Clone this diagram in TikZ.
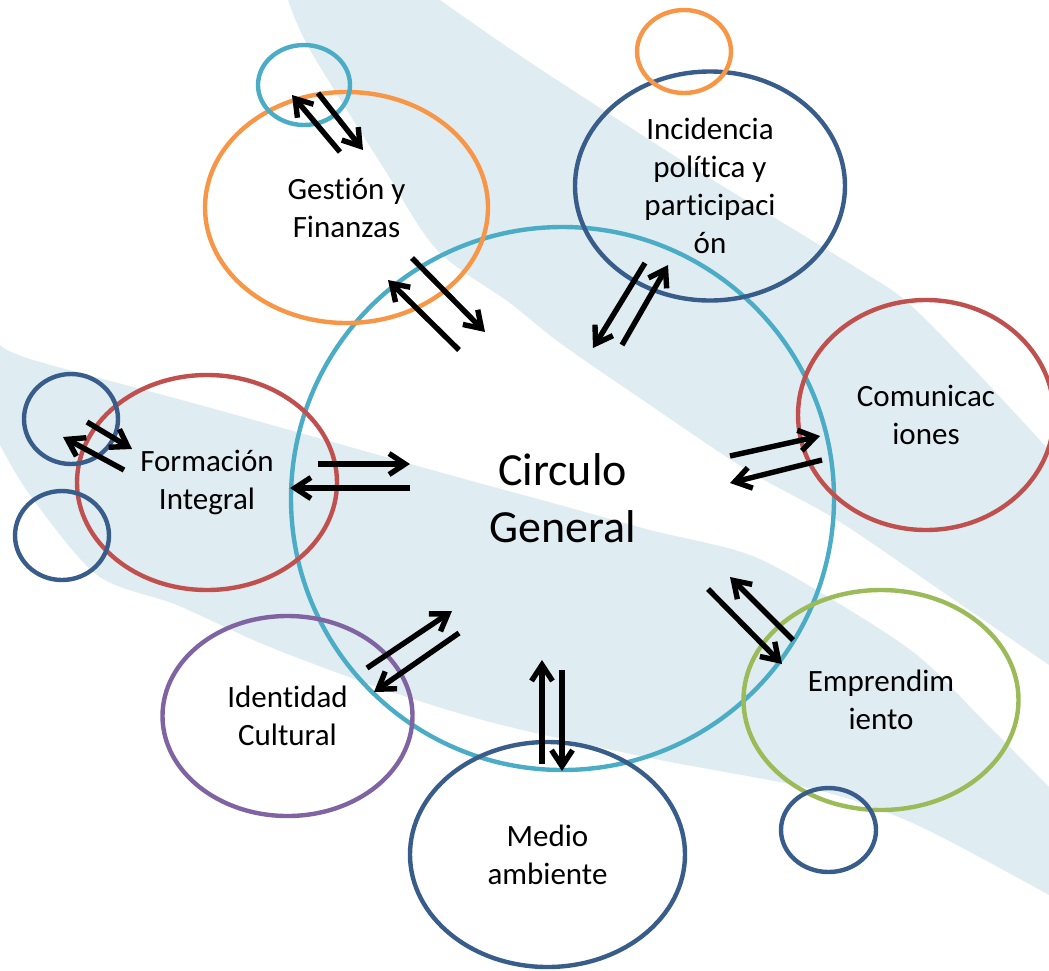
\documentclass[tikz,border=0pt]{standalone}
\usepackage{fontspec}
\setmainfont{Carlito}[Ligatures=NoCommon]
\usetikzlibrary{shapes.geometric,arrows.meta}
\definecolor{swoosh}{RGB}{223,236,241}
\definecolor{cteal}{RGB}{75,172,198}
\definecolor{corange}{RGB}{247,150,70}
\definecolor{cblue}{RGB}{56,93,138}
\definecolor{cred}{RGB}{192,80,77}
\definecolor{cgreen}{RGB}{155,187,89}
\definecolor{cpurple}{RGB}{128,100,162}
\begin{document}
\begin{tikzpicture}[x=0.5pt,y=-0.5pt]
    \tikzstyle{every node}=[font=\fontsize{15.5}{19}\selectfont, align=center]
    \tikzstyle{area}=[ellipse, draw, line width=2.2pt, inner sep=0pt]
    \tikzstyle{arr}=[line width=2.7pt, -{Straight Barb[length=8pt,width=10.5pt]}]
    \useasboundingbox (0,0) rectangle (1049,970);

    % background swooshes
    \fill[swoosh] plot[smooth] coordinates {(440,0) (500,42) (560,82) (700,172) (860,270) (907,302) (970,365) (1049,450)}
        -- plot[smooth] coordinates {(1049,665) (940,590) (837,520) (747,470) (650,405) (560,343) (510,303) (437,250) (383,167) (310,50) (288,0)} -- cycle;
    \fill[swoosh] plot[smooth] coordinates {(0,345) (33,360) (200,405) (450,475) (560,505) (650,530) (750,555) (833,600) (917,655) (983,720) (1049,787)}
        -- plot[smooth] coordinates {(1049,895) (917,825) (817,790) (650,758) (494,723) (380,688) (265,645) (177,605) (97,575) (30,495) (0,445)} -- cycle;

    % circles
    \node (cg) [area, draw=cteal, minimum width=271.5pt, minimum height=271.5pt, font=\fontsize{23}{28.5}\selectfont] at (562.5,498.5) {Circulo\\General};
    \node (gf) [area, draw=corange, minimum width=141.5pt, minimum height=115.5pt] at (346.5,207.5) {Gestión y\\Finanzas};
    \node (gfs) [area, draw=cteal, minimum width=46pt, minimum height=40pt] at (304,85) {};
    \node (ip) [area, draw=cblue, minimum width=135pt, minimum height=114.5pt] at (710,186) {Incidencia\\política y\\participaci\\ón};
    \node (ips) [area, draw=corange, minimum width=47pt, minimum height=41.5pt] at (684,51.5) {};
    \node (co) [area, draw=cred, minimum width=128pt, minimum height=115pt] at (926,415) {Comunicac\\iones};
    \node (em) [area, draw=cgreen, minimum width=137.5pt, minimum height=110pt] at (881,700) {Emprendim\\iento};
    \node (ems) [area, draw=cblue, minimum width=47.5pt, minimum height=42pt] at (828.5,830) {};
    \node (ma) [area, draw=cblue, minimum width=137.5pt, minimum height=112.5pt] at (547.5,854.5) {Medio\\ambiente};
    \node (ic) [area, draw=cpurple, minimum width=125pt, minimum height=100pt] at (287.5,716) {Identidad\\Cultural};
    \node (fi) [area, draw=cred, minimum width=130pt, minimum height=107.5pt] at (207,482.5) {Formación\\Integral};
    \node (fis1) [area, draw=cblue, minimum width=47pt, minimum height=45pt] at (71,419) {};
    \node (fis2) [area, draw=cblue, minimum width=47pt, minimum height=44.5pt] at (62,535.5) {};

    % arrow ends
    \coordinate (gf1) at (459,350); \coordinate (gf2) at (388,280);
    \coordinate (gf3) at (412,258); \coordinate (gf4) at (485,332);
    \coordinate (gs1) at (340,152); \coordinate (gs2) at (292,95);
    \coordinate (gs3) at (318,93);  \coordinate (gs4) at (363,150);
    \coordinate (ip1) at (645,263); \coordinate (ip2) at (593,348);
    \coordinate (ip3) at (622,345); \coordinate (ip4) at (668,265);
    \coordinate (co1) at (730,456); \coordinate (co2) at (820,436);
    \coordinate (co3) at (822,460); \coordinate (co4) at (730,483);
    \coordinate (em1) at (708,589); \coordinate (em2) at (782,664);
    \coordinate (em3) at (793,640); \coordinate (em4) at (730,577);
    \coordinate (ma1) at (542,764); \coordinate (ma2) at (542,660);
    \coordinate (ma3) at (562,670); \coordinate (ma4) at (562,771);
    \coordinate (ic1) at (367,668); \coordinate (ic2) at (452,611);
    \coordinate (ic3) at (459,633); \coordinate (ic4) at (374,692);
    \coordinate (fi1) at (318,464); \coordinate (fi2) at (410,464);
    \coordinate (fi3) at (410,488); \coordinate (fi4) at (290,488);
    \coordinate (fs1) at (87,422);  \coordinate (fs2) at (132,449);
    \coordinate (fs3) at (124,470); \coordinate (fs4) at (63,437);

    \draw[arr] (gf1) -- (gf2);
    \draw[arr] (gf3) -- (gf4);
    \draw[arr] (gs1) -- (gs2);
    \draw[arr] (gs3) -- (gs4);
    \draw[arr] (ip1) -- (ip2);
    \draw[arr] (ip3) -- (ip4);
    \draw[arr] (co1) -- (co2);
    \draw[arr] (co3) -- (co4);
    \draw[arr] (em1) -- (em2);
    \draw[arr] (em3) -- (em4);
    \draw[arr] (ma1) -- (ma2);
    \draw[arr] (ma3) -- (ma4);
    \draw[arr] (ic1) -- (ic2);
    \draw[arr] (ic3) -- (ic4);
    \draw[arr] (fi1) -- (fi2);
    \draw[arr] (fi3) -- (fi4);
    \draw[arr] (fs1) -- (fs2);
    \draw[arr] (fs3) -- (fs4);
\end{tikzpicture}
\end{document}
